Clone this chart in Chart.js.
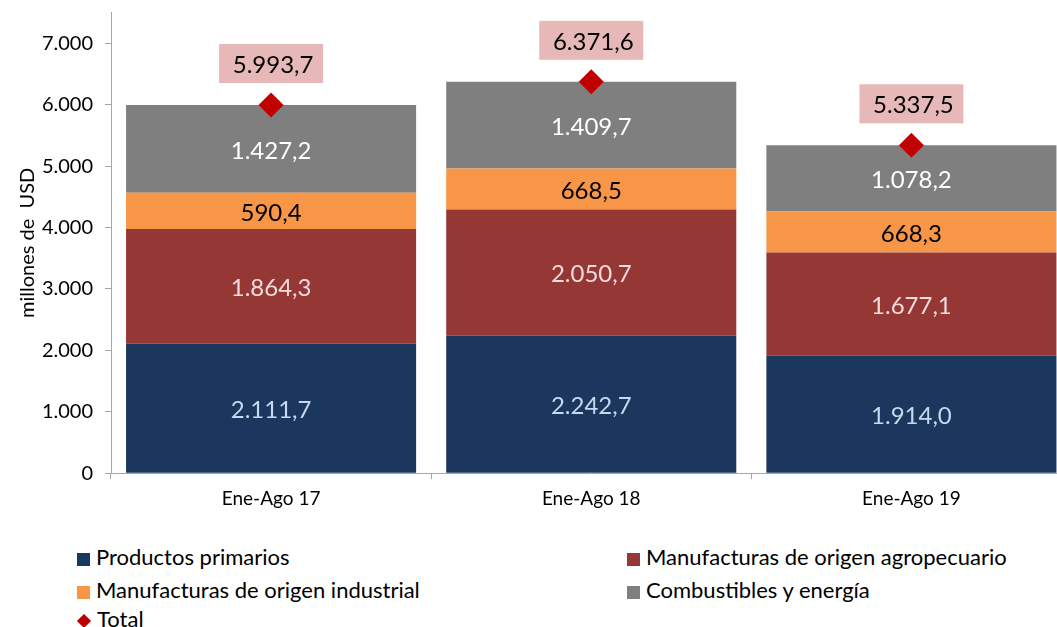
<html>
<head>
<style>
  body { margin: 0; overflow: hidden; background: #fff; font-family: Lato, sans-serif; }
  #wrap { position: relative; width: 1084px; height: 522px; }
  .item { position: absolute; font-size: 22px; color: #000; line-height: 24px; white-space: nowrap; }
  .sw { display: inline-block; width: 13px; height: 13px; margin-right: 6px; vertical-align: -1px; }
  .dia { display: inline-block; width: 10px; height: 10px; margin: 0 8px 0 2px; transform: rotate(45deg); vertical-align: 1px; }
</style>
</head>
<body>
<div id="wrap"><canvas id="myChart"></canvas></div>
<div id="legend"></div>

<script src="https://cdn.jsdelivr.net/npm/chart.js@4/dist/chart.umd.min.js"></script>
<script>
  const labels = ['Ene-Ago 17', 'Ene-Ago 18', 'Ene-Ago 19']
  const primarios = [2111.7, 2242.7, 1914.0]
  const moa = [1864.3, 2050.7, 1677.1]
  const moi = [590.4, 668.5, 668.3]
  const combustibles = [1427.2, 1409.7, 1078.2]
  const total = [5993.7, 6371.6, 5337.5]
  const yTicks = [0, 1000, 2000, 3000, 4000, 5000, 6000, 7000]

  const names = ['Productos primarios', 'Manufacturas de origen agropecuario', 'Manufacturas de origen industrial', 'Combustibles y energía']
  const colors = ['#1b375d', '#953735', '#f79646', '#7f7f7f']
  const textColors = ['#c6d9f1', '#f2dcdb', '#000000', '#ffffff']
  const totalColor = '#c00000'

  // 1.427,2 style
  function fmt(v, dec) {
    let s = v.toFixed(dec)
    let parts = s.split('.')
    let ip = parts[0].replace(/\B(?=(\d{3})+(?!\d))/g, '.')
    return parts.length > 1 ? ip + ',' + parts[1] : ip
  }

  const labelPlugin = {
    id: 'labels',
    afterDatasetsDraw(chart) {
      const ctx = chart.ctx
      ctx.save()
      ctx.textAlign = 'center'
      ctx.textBaseline = 'middle'
      ctx.font = '24px Lato'
      chart.data.datasets.forEach((ds, i) => {
        const meta = chart.getDatasetMeta(i)
        meta.data.forEach((el, j) => {
          const v = ds.data[j]
          if (ds.type === 'line') {
            const bx = el.x, by = el.y - 41
            ctx.fillStyle = '#e6b9b8'
            ctx.fillRect(bx - 52, by - 20, 104, 39)
            ctx.fillStyle = '#000'
            ctx.fillText(fmt(v, 1), bx + 2, by + 1)
          } else {
            ctx.fillStyle = textColors[i]
            ctx.fillText(fmt(v, 1), el.x, (el.y + el.base) / 2 + 2)
          }
        })
      })
      ctx.restore()
    },
  }

  const series = [primarios, moa, moi, combustibles]
  const datasets = series.map((s, i) => ({
    type: 'bar',
    label: names[i],
    data: s,
    backgroundColor: colors[i],
    stack: 'a',
    order: 1,
    barPercentage: 0.906,
    categoryPercentage: 1,
  }))
  datasets.push({
    type: 'line',
    label: 'Total',
    data: total,
    showLine: false,
    stack: 'b',
    order: 0,
    pointStyle: 'rectRot',
    pointRadius: 12.5,
    pointBackgroundColor: totalColor,
    pointBorderWidth: 0,
  })

  Chart.defaults.font.family = 'Lato'
  Chart.defaults.color = '#000'

  new Chart(document.getElementById('myChart'), {
    data: { labels: labels, datasets: datasets },
    options: {
      responsive: true,
      maintainAspectRatio: false,
      animation: false,
      layout: { padding: { top: 12, left: 0, right: 0, bottom: 4 } },
      plugins: { legend: { display: false }, tooltip: { enabled: false } },
      scales: {
        x: {
          stacked: true,
          grid: { display: true, drawOnChartArea: false, drawTicks: true, tickLength: 6, color: '#a6a6a6', offset: true },
          border: { color: '#a6a6a6' },
          ticks: { font: { size: 19 }, padding: 8 },
        },
        y: {
          stacked: true,
          min: 0,
          max: 7500,
          afterBuildTicks(scale) {
            scale.ticks = yTicks.map((v) => ({ value: v }))
          },
          afterFit(scale) {
            scale.width = 111
            scale.paddingTop = 0
            scale.paddingBottom = 0
          },
          grid: { display: true, drawOnChartArea: false, drawTicks: true, tickLength: 6, color: '#a6a6a6' },
          border: { color: '#a6a6a6' },
          ticks: { font: { size: 20 }, padding: 12, callback: (v) => fmt(v, 0) },
          title: { display: true, text: 'millones de  USD', font: { size: 20 }, padding: { top: 16, bottom: 0 } },
        },
      },
    },
    plugins: [labelPlugin],
  })

  // legend below, two columns like the original
  const leg = document.getElementById('legend')
  const pos = [[77, 545], [627, 545], [77, 578], [627, 578]]
  names.forEach((n, i) => {
    const d = document.createElement('div')
    d.className = 'item'
    d.style.left = pos[i][0] + 'px'
    d.style.top = pos[i][1] + 'px'
    d.innerHTML = '<span class="sw" style="background:' + colors[i] + '"></span>' + n
    leg.appendChild(d)
  })
  const t = document.createElement('div')
  t.className = 'item'
  t.style.left = '77px'
  t.style.top = '607px'
  t.innerHTML = '<span class="dia" style="background:' + totalColor + '"></span>Total'
  leg.appendChild(t)
</script>
</body>
</html>
